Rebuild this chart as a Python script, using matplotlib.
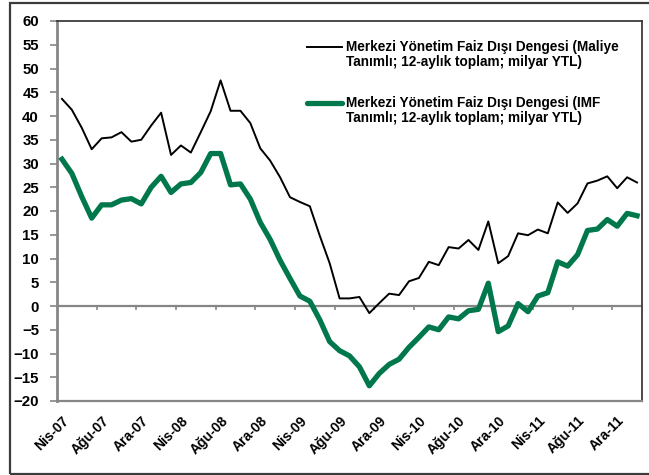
import numpy as np
import matplotlib
matplotlib.use("Agg")
import matplotlib.pyplot as plt
from matplotlib.patches import Rectangle

plt.rcParams['font.family'] = ['Liberation Sans', 'DejaVu Sans']
plt.rcParams['font.weight'] = 'bold'

# monthly data, Nis-07 .. Şub-12
maliye = [43.6, 41.3, 37.5, 33.0, 35.3, 35.5, 36.6, 34.6, 35.0, 38.0,
          40.7, 31.8, 33.8, 32.3, 36.6, 41.0, 47.5, 41.1, 41.1, 38.5,
          33.2, 30.6, 27.1, 22.9, 21.9, 21.0, 14.8, 9.0, 1.6, 1.6,
          1.9, -1.5, 0.6, 2.6, 2.3, 5.2, 5.9, 9.3, 8.6, 12.4,
          12.1, 13.9, 11.8, 17.8, 9.0, 10.5, 15.3, 14.9, 16.1, 15.3,
          21.8, 19.6, 21.6, 25.8, 26.4, 27.3, 24.8, 27.1, 26.0]
imf = [30.9, 27.9, 23.0, 18.5, 21.3, 21.3, 22.3, 22.6, 21.5, 25.0,
       27.3, 23.9, 25.7, 26.0, 28.1, 32.1, 32.1, 25.5, 25.7, 22.5,
       17.6, 14.0, 9.6, 5.8, 2.1, 1.0, -2.9, -7.5, -9.4, -10.5,
       -12.8, -16.8, -14.2, -12.3, -11.2, -8.7, -6.6, -4.4, -5.0, -2.3,
       -2.7, -1.0, -0.7, 4.8, -5.4, -4.2, 0.5, -1.2, 2.1, 2.8,
       9.3, 8.4, 10.8, 15.9, 16.2, 18.2, 16.8, 19.5, 19.0]
tick_labels = ['Nis-07', 'Ağu-07', 'Ara-07', 'Nis-08', 'Ağu-08', 'Ara-08',
               'Nis-09', 'Ağu-09', 'Ara-09', 'Nis-10', 'Ağu-10', 'Ara-10',
               'Nis-11', 'Ağu-11', 'Ara-11']
label_maliye = 'Merkezi Yönetim Faiz Dışı Dengesi (Maliye\nTanımlı; 12-aylık toplam; milyar YTL)'
label_imf = 'Merkezi Yönetim Faiz Dışı Dengesi (IMF\nTanımlı; 12-aylık toplam; milyar YTL)'

green = '#00784C'
grey = '#868686'
dark = '#3c3c3c'

x = np.arange(len(maliye))

fig = plt.figure(figsize=(6.49, 4.75), dpi=100)
ax = fig.add_axes([57 / 649, 1 - 401 / 475, 585 / 649, 380 / 475])

ax.plot(x, imf, color=green, lw=3.8, solid_joinstyle='round', zorder=3)
ax.plot(x, maliye, color='black', lw=1.4, zorder=4)

ax.set_xlim(-0.5, len(x) - 0.5)
ax.set_ylim(-20, 60)
ax.set_yticks(np.arange(-20, 61, 5))

# category axis crosses at zero
ax.axhline(0, color=grey, lw=1.6, zorder=2)
ax.vlines(np.arange(-0.5, len(x), 4), -0.9, 0, color=grey, lw=1.2, zorder=2)

ax.set_xticks(x[::4])
ax.set_xticklabels(tick_labels, rotation=45, ha='right', va='top',
                   rotation_mode='anchor', fontsize=10, fontweight='bold')
ax.tick_params(axis='x', length=0, pad=9)
ax.tick_params(axis='y', length=5, width=1.2, color=grey, labelsize=10.8, pad=8)
for t in ax.get_yticklabels():
    t.set_fontweight('bold')

ax.spines['left'].set_color(grey)
ax.spines['left'].set_linewidth(2)
ax.spines['bottom'].set_color(grey)
ax.spines['bottom'].set_linewidth(1.6)
for s in ['top', 'right']:
    ax.spines[s].set_color(dark)
    ax.spines[s].set_linewidth(1.3)

# legend, drawn by hand so the line sits on the first text row
ax.plot([0.427, 0.487], [0.932, 0.932], transform=ax.transAxes, color='black', lw=1.4)
ax.text(0.494, 0.912, label_maliye, transform=ax.transAxes, va='center', ha='left',
        fontsize=9.8, fontweight='bold', linespacing=1.05)
ax.plot([0.427, 0.487], [0.785, 0.785], transform=ax.transAxes, color=green, lw=3.8,
        solid_capstyle='round')
ax.text(0.494, 0.765, label_imf, transform=ax.transAxes, va='center', ha='left',
        fontsize=9.8, fontweight='bold', linespacing=1.05)

fig.add_artist(Rectangle((9.5 / 649, 1.5 / 475), 1.0, 471 / 475, transform=fig.transFigure,
                         fill=False, lw=1.6, ec=dark))

fig.savefig('out.png', dpi=100)
